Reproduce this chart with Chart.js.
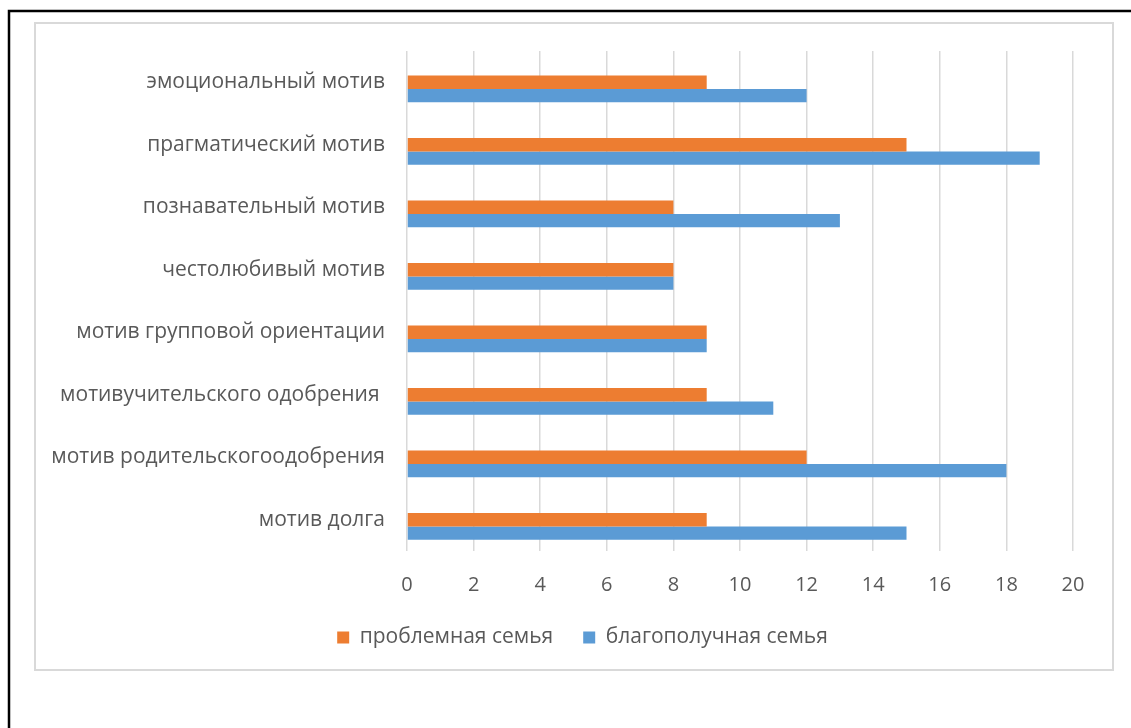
<!DOCTYPE html>
<html>
<head>
<meta charset="utf-8">
<script src="https://cdn.jsdelivr.net/npm/chart.js@4"></script>
<style>
html,body{margin:0;padding:0;background:#fff;}
#wrap{position:absolute;left:0;top:0;width:1131px;height:728px;}
</style>
</head>
<body>
<div id="wrap"><canvas id="c" width="1131" height="728"></canvas></div>
<script>
const categories = [
  'эмоциональный мотив',
  'прагматический мотив',
  'познавательный мотив',
  'честолюбивый мотив',
  'мотив групповой ориентации',
  'мотивучительского одобрения ',
  'мотив родительскогоодобрения',
  'мотив долга'
];
const seriesNames = ['проблемная семья', 'благополучная семья'];
const problemFamily = [9, 15, 8, 8, 9, 9, 12, 9];
const wellFamily = [12, 19, 13, 8, 9, 11, 18, 15];
const emptySeries = [null, null, null, null, null, null, null, null];
const xTicks = [0, 2, 4, 6, 8, 10, 12, 14, 16, 18, 20];

const FONT = "'Open Sans', 'Noto Sans', sans-serif";
const TXT = '#595959';

const framePlugin = {
  id: 'frame',
  afterLayout(chart) {
    const lg = chart.legend;
    if (lg) { lg.left += 46; lg.right += 46; }
  },
  beforeDraw(chart) {
    const ctx = chart.ctx;
    ctx.save();
    ctx.fillStyle = '#fff';
    ctx.fillRect(0, 0, chart.width, chart.height);
    ctx.strokeStyle = '#000';
    ctx.lineWidth = 2.5;
    ctx.beginPath();
    ctx.moveTo(9, 728);
    ctx.lineTo(9, 11);
    ctx.lineTo(1131, 11);
    ctx.stroke();
    ctx.strokeStyle = '#d9d9d9';
    ctx.lineWidth = 2;
    ctx.strokeRect(35, 23, 1078, 647);
    ctx.restore();
  }
};

new Chart(document.getElementById('c'), {
  type: 'bar',
  data: {
    labels: categories,
    datasets: [
      { label: '', data: emptySeries, backgroundColor: 'rgba(0,0,0,0)' },
      { label: seriesNames[0], data: problemFamily, backgroundColor: '#ED7D31' },
      { label: seriesNames[1], data: wellFamily, backgroundColor: '#5B9BD5' }
    ]
  },
  plugins: [framePlugin],
  options: {
    indexAxis: 'y',
    responsive: false,
    devicePixelRatio: 1,
    animation: false,
    categoryPercentage: 0.64,
    barPercentage: 1.0,
    layout: { padding: { left: 0, right: 58, top: 51, bottom: 70 } },
    plugins: {
      tooltip: { enabled: false },
      legend: {
        position: 'bottom',
        labels: {
          filter: (item) => item.text !== '',
          boxWidth: 12,
          boxHeight: 12,
          padding: 30,
          color: TXT,
          font: { family: FONT, size: 21 }
        }
      }
    },
    scales: {
      x: {
        min: 0,
        max: 20,
        afterBuildTicks(scale) { scale.ticks = xTicks.map(v => ({ value: v })); },
        ticks: { color: TXT, font: { family: FONT, size: 20 }, padding: 22 },
        grid: { color: '#d9d9d9', lineWidth: 1.5, drawTicks: false },
        border: { display: false },
        afterFit(scale) { scale.height = 46; }
      },
      y: {
        ticks: { color: TXT, font: { family: FONT, size: 21 }, padding: 14 },
        grid: { display: false },
        border: { display: false },
        afterFit(scale) { scale.width = 407; }
      }
    }
  }
});
</script>
</body>
</html>
